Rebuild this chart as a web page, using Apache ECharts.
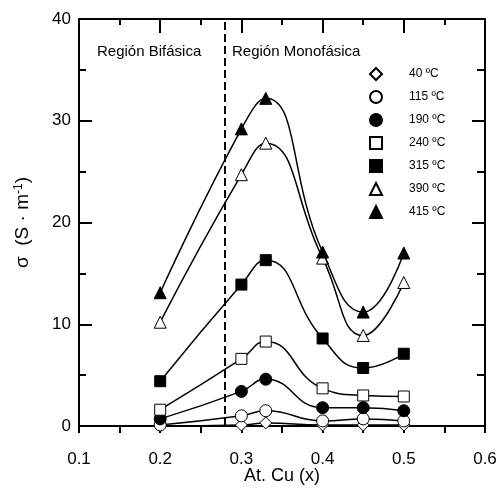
<!DOCTYPE html>
<html>
<head>
<meta charset="utf-8">
<script src="https://cdn.jsdelivr.net/npm/echarts@6/dist/echarts.min.js"></script>
<style>html,body{margin:0;padding:0;background:#fff;}#c{width:501px;height:488px;}</style>
</head>
<body>
<div id="c"></div>
<script>
var xVals = [0.2, 0.3, 0.33, 0.4, 0.45, 0.5];
var s40  = [0.0, 0.1, 0.3, 0.1, 0.1, 0.1];
var s115 = [0.1, 1.0, 1.5, 0.5, 0.7, 0.5];
var s190 = [0.7, 3.4, 4.6, 1.8, 1.8, 1.5];
var s240 = [1.6, 6.6, 8.3, 3.7, 3.0, 2.9];
var s315 = [4.4, 13.9, 16.3, 8.6, 5.7, 7.1];
var s390 = [10.2, 24.7, 27.8, 16.5, 8.9, 14.1];
var s415 = [13.1, 29.2, 32.2, 17.1, 11.2, 17.0];
var seriesNames = ['40 ºC', '115 ºC', '190 ºC', '240 ºC', '315 ºC', '390 ºC', '415 ºC'];
var seriesData = [s40, s115, s190, s240, s315, s390, s415];
var symbols = ['diamond', 'circle', 'circle', 'rect', 'rect', 'triangle', 'triangle'];
var filled = [false, false, true, false, true, false, true];
var phaseBoundary = 0.28;
var xTicks = { min: 0.1, max: 0.6, interval: 0.1 };
var yTicks = { min: 0, max: 40, interval: 10 };

var FONT = 'Liberation Sans, Arial, Helvetica, sans-serif';
var chart = echarts.init(document.getElementById('c'), null, { renderer: 'canvas' });

var series = seriesNames.map(function (name, i) {
  var s = {
    name: name,
    type: 'line',
    smooth: 0.5,
    symbol: symbols[i],
    symbolSize: symbols[i] === 'rect' ? 11 : 12,
    data: xVals.map(function (x, j) { return [x, seriesData[i][j]]; }),
    lineStyle: { color: '#000', width: 1.5 },
    itemStyle: { color: filled[i] ? '#000' : '#fff', borderColor: '#000', borderWidth: 1 },
    emphasis: { disabled: true },
    z: 3 + i
  };
  if (i === 0) {
    s.markLine = {
      silent: true,
      symbol: 'none',
      label: { show: false },
      lineStyle: { color: '#000', width: 2, type: [8, 4] },
      data: [{ xAxis: phaseBoundary }]
    };
  }
  return s;
});

var axisLine = { show: true, onZero: false, lineStyle: { color: '#000', width: 2 } };
var tickStyle = { color: '#000', width: 2 };

chart.setOption({
  backgroundColor: '#fff',
  animation: false,
  textStyle: { fontFamily: FONT },
  grid: { left: 79, right: 16, top: 19, bottom: 62, containLabel: false, outerBoundsMode: 'none' },
  legend: {
    orient: 'vertical',
    left: 364,
    top: 62,
    itemWidth: 12,
    itemHeight: 12,
    itemGap: 9,
    selectedMode: false,
    textStyle: { fontSize: 12, color: '#000', fontFamily: FONT, padding: [0, 0, 0, 22] },
    data: seriesNames.map(function (n, i) { return { name: n, icon: symbols[i] }; })
  },
  xAxis: [{
    type: 'value', position: 'bottom',
    min: xTicks.min, max: xTicks.max, interval: xTicks.interval,
    name: 'At. Cu (x)', nameLocation: 'middle', nameGap: 41, nameMoveOverlap: false,
    nameTextStyle: { fontSize: 18, color: '#000', fontFamily: FONT },
    axisLine: axisLine,
    axisTick: { show: true, inside: false, length: 7, lineStyle: tickStyle },
    minorTick: { show: true, splitNumber: 2, length: 7, lineStyle: tickStyle },
    axisLabel: { fontSize: 17, color: '#000', margin: 25, fontFamily: FONT,
      formatter: function (v) { return v.toFixed(1); } },
    splitLine: { show: false }, minorSplitLine: { show: false }
  }, {
    type: 'value', position: 'top',
    min: xTicks.min, max: xTicks.max, interval: xTicks.interval,
    axisLine: axisLine,
    axisTick: { show: true, inside: true, length: 14, lineStyle: tickStyle },
    minorTick: { show: true, splitNumber: 2, length: 6, lineStyle: tickStyle },
    axisLabel: { show: false },
    splitLine: { show: false }
  }],
  yAxis: [{
    type: 'value', position: 'left',
    min: yTicks.min, max: yTicks.max, interval: yTicks.interval,
    name: 'σ  (S · m{sup|-1})', nameLocation: 'middle', nameGap: 47, nameMoveOverlap: false,
    nameTextStyle: { fontSize: 19, color: '#000', fontFamily: FONT,
      rich: { sup: { fontSize: 12, verticalAlign: 'top', color: '#000', fontFamily: FONT, padding: [0, 0, 6, 0] } } },
    axisLine: axisLine,
    axisTick: { show: true, inside: true, length: 13, lineStyle: tickStyle },
    minorTick: { show: true, splitNumber: 2, length: 7, lineStyle: tickStyle },
    axisLabel: { fontSize: 17, color: '#000', margin: 8, fontFamily: FONT },
    splitLine: { show: false }
  }, {
    type: 'value', position: 'right',
    min: yTicks.min, max: yTicks.max, interval: yTicks.interval,
    axisLine: axisLine,
    axisTick: { show: true, inside: true, length: 13, lineStyle: tickStyle },
    minorTick: { show: true, splitNumber: 2, length: 8, lineStyle: tickStyle },
    axisLabel: { show: false },
    splitLine: { show: false }
  }],
  graphic: [
    { type: 'text', left: 97, top: 44, style: { text: 'Región Bifásica', fontSize: 15, fill: '#000', fontFamily: FONT } },
    { type: 'text', left: 232, top: 44, style: { text: 'Región Monofásica', fontSize: 15, fill: '#000', fontFamily: FONT } }
  ],
  series: series
});
</script>
</body>
</html>
